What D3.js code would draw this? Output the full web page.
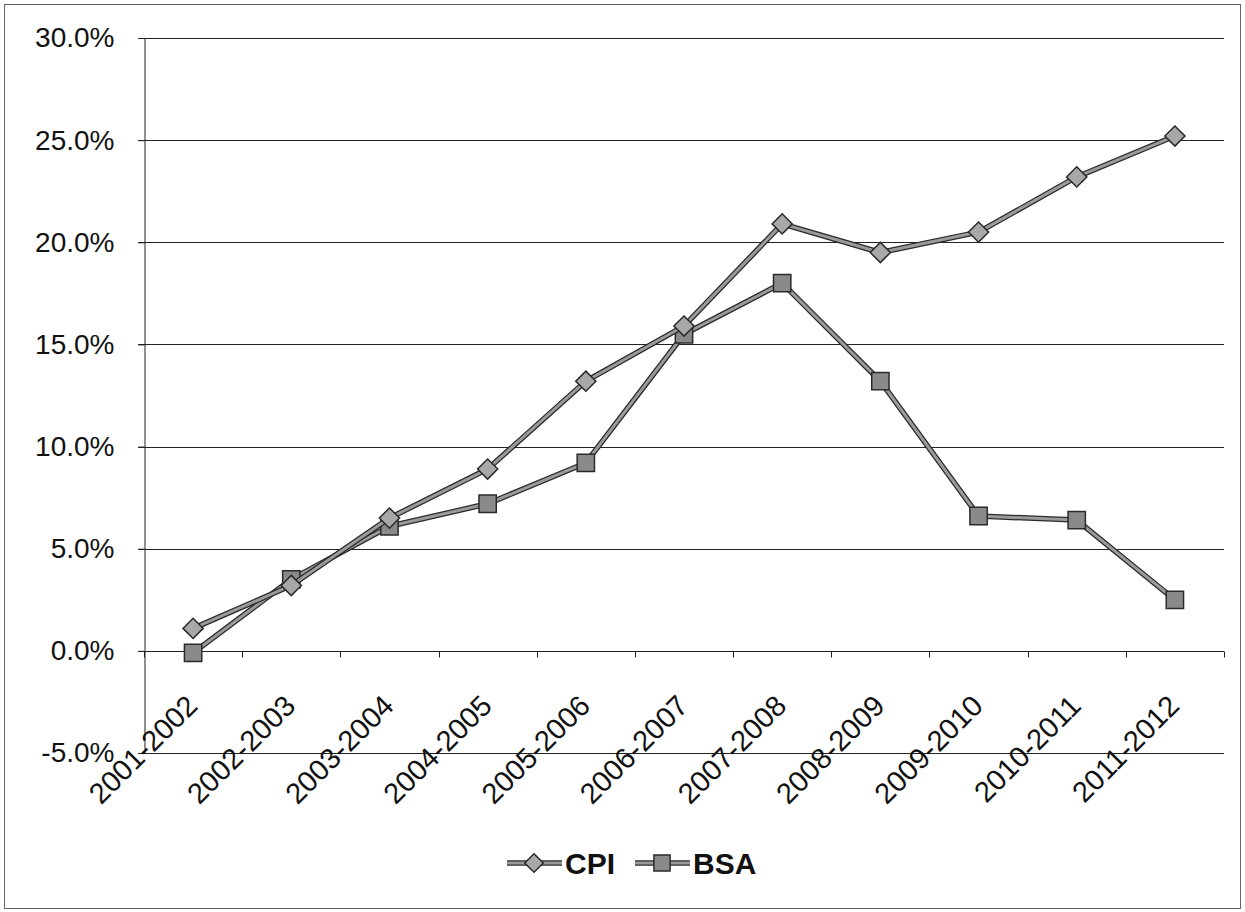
<!DOCTYPE html>
<html>
<head>
<meta charset="utf-8">
<script src="https://cdn.jsdelivr.net/npm/d3@7"></script>
<style>
body { margin:0; background:#fff; }
text { font-family:"Liberation Sans", Arial, sans-serif; fill:#111; }
</style>
</head>
<body>
<script>
/* chart values */
var years = ["2001-2002","2002-2003","2003-2004","2004-2005","2005-2006","2006-2007",
	     "2007-2008","2008-2009","2009-2010","2010-2011","2011-2012"];
var cpi = [1.1, 3.2, 6.5, 8.9, 13.2, 15.9, 20.9, 19.5, 20.5, 23.2, 25.2];
var bsa = [-0.1, 3.5, 6.1, 7.2, 9.2, 15.5, 18.0, 13.2, 6.6, 6.4, 2.5];
var yTicks = [-5, 0, 5, 10, 15, 20, 25, 30];
var seriesNames = ["CPI", "BSA"];

var W = 1245, H = 912;
var plotLeft = 144, plotRight = 1224, plotTop = 38, plotBottom = 753;

var svg = d3.select("body").append("svg")
    .attr("width", W).attr("height", H);

svg.append("rect")
    .attr("x", 4.5).attr("y", 4.5)
    .attr("width", 1236).attr("height", 904)
    .attr("fill", "none").attr("stroke", "#666").attr("stroke-width", 1);

var x = d3.scaleBand().domain(years).range([plotLeft, plotRight]);
var y = d3.scaleLinear().domain([-5, 30]).range([plotBottom, plotTop]);

/* gridlines */
svg.append("g").selectAll("line").data(yTicks).enter().append("line")
    .attr("x1", plotLeft - 6).attr("x2", plotRight)
    .attr("y1", function(d){ return Math.round(y(d)) + 0.5; })
    .attr("y2", function(d){ return Math.round(y(d)) + 0.5; })
    .attr("stroke", "#222").attr("stroke-width", 1);

/* y axis */
var yAxis = svg.append("g")
    .attr("transform", "translate(" + (plotLeft + 0.5) + ",0)")
    .call(d3.axisLeft(y).tickValues(yTicks).tickSize(6).tickPadding(24)
	  .tickFormat(function(d){ return d.toFixed(1) + "%"; }));
yAxis.select(".domain").attr("stroke", "#222");
yAxis.selectAll("line").attr("stroke", "#222");
yAxis.selectAll("text")
    .style("font-family", "Liberation Sans, Arial, sans-serif")
    .style("font-size", "28px").attr("fill", "#111");

/* x axis on the zero line, ticks between categories */
var xAxis = svg.append("g")
    .attr("transform", "translate(0," + (Math.round(y(0)) + 0.5) + ")");
xAxis.append("line")
    .attr("x1", plotLeft).attr("x2", plotRight)
    .attr("stroke", "#222");
xAxis.selectAll("line.tk").data(d3.range(years.length + 1)).enter().append("line")
    .attr("class", "tk")
    .attr("x1", function(i){ return Math.round(plotLeft + i * x.step()) + 0.5; })
    .attr("x2", function(i){ return Math.round(plotLeft + i * x.step()) + 0.5; })
    .attr("y1", 0).attr("y2", 6)
    .attr("stroke", "#222");
xAxis.selectAll("text").data(years).enter().append("text")
    .attr("transform", function(d){
	return "translate(" + (x(d) + x.bandwidth()/2 + 6) + ",56) rotate(-45)";
    })
    .attr("text-anchor", "end")
    .style("font-size", "29px")
    .text(function(d){ return d; });

/* series lines */
var line = d3.line()
    .x(function(d, i){ return x(years[i]) + x.bandwidth()/2; })
    .y(function(d){ return y(d); });

function drawSeries(vals, shape){
    var g = svg.append("g");
    g.append("path").datum(vals).attr("d", line)
	.attr("fill", "none").attr("stroke", "#2a2a2a").attr("stroke-width", 5.5)
	.attr("stroke-linejoin", "round");
    g.append("path").datum(vals).attr("d", line)
	.attr("fill", "none").attr("stroke", "#9a9a9a").attr("stroke-width", 3)
	.attr("stroke-linejoin", "round");
    var sym = d3.symbol().type(shape == "diamond" ? d3.symbolDiamond2 : d3.symbolSquare)
	.size(shape == "diamond" ? 260 : 300);
    g.selectAll("path.mk").data(vals).enter().append("path")
	.attr("class", "mk")
	.attr("d", sym)
	.attr("transform", function(d, i){
	    return "translate(" + (x(years[i]) + x.bandwidth()/2) + "," + y(d) + ")";
	})
	.attr("fill", shape == "diamond" ? "#a8a8a8" : "#8a8a8a")
	.attr("stroke", "#2a2a2a").attr("stroke-width", 1.5);
}
drawSeries(bsa, "square");
drawSeries(cpi, "diamond");

/* legend */
var legend = svg.append("g").attr("transform", "translate(0,863)");
var legendX = [507, 635];
seriesNames.forEach(function(name, i){
    var lg = legend.append("g").attr("transform", "translate(" + legendX[i] + ",0)");
    lg.append("line").attr("x1", 0).attr("x2", 55)
	.attr("stroke", "#2a2a2a").attr("stroke-width", 5.5);
    lg.append("line").attr("x1", 0).attr("x2", 55)
	.attr("stroke", "#9a9a9a").attr("stroke-width", 3);
    lg.append("path")
	.attr("d", d3.symbol().type(i == 0 ? d3.symbolDiamond2 : d3.symbolSquare).size(i == 0 ? 220 : 260))
	.attr("transform", "translate(27,0)")
	.attr("fill", i == 0 ? "#a8a8a8" : "#8a8a8a")
	.attr("stroke", "#2a2a2a").attr("stroke-width", 1.5);
    lg.append("text").attr("x", 58).attr("y", 11)
	.style("font-size", "30px").style("font-weight", "bold")
	.text(name);
});
</script>
</body>
</html>
